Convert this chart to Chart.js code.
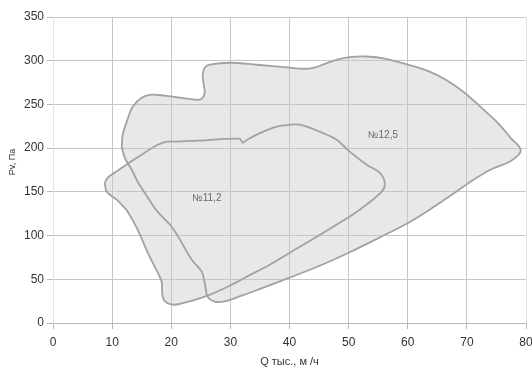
<!DOCTYPE html>
<html>
<head>
<meta charset="utf-8">
<script src="https://cdn.jsdelivr.net/npm/chart.js@4/dist/chart.umd.min.js"></script>
<style>
  html, body { margin: 0; padding: 0; background: #fff; }
  #wrap { width: 532px; height: 369px; }
</style>
</head>
<body>
<div id="wrap"><canvas id="c" width="532" height="369"></canvas></div>
<script>
// Fan operating areas: flow Q (thousand m3/h) vs pressure Pv (Pa)
const xTicks = [0, 10, 20, 30, 40, 50, 60, 70, 80];
const yTicks = [0, 50, 100, 150, 200, 250, 300, 350];

const seriesNames = ['№12,5', '№11,2'];
const xTitle = 'Q тыс., м /ч';
const yTitle = 'Pv, Па';

// Contour of the №12,5 area (closed, clockwise)
const q125 = [11.62, 11.79, 12.46, 13.48, 15.0, 16.69, 18.89, 21.42, 23.97, 25.16, 25.66, 25.49, 25.32, 25.66, 26.5, 29.88, 34.45, 40.03, 42.4, 44.2, 46.0, 48.2, 50.5, 53.0, 56.1, 60.0, 63.5, 66.5, 69.5, 72.5, 75.5, 77.5, 78.7, 79.1, 78.77, 77.24, 73.9, 70.5, 67.5, 64.0, 60.2, 55.0, 50.0, 45.1, 40.0, 35.0, 32.0, 29.0, 27.35, 26.16, 25.66, 25.16, 23.46, 21.77, 20.08, 17.6, 15.9, 14.32, 13.31, 12.13, 11.62];
const p125 = [201.6, 215.4, 230.2, 247.3, 257.7, 261.1, 260.0, 257.7, 255.4, 256.5, 263.4, 272.6, 284.0, 292.0, 295.4, 297.7, 295.4, 292.0, 290.8, 292.2, 296.5, 301.5, 304.3, 304.8, 302.5, 295.5, 288.0, 278.0, 264.0, 246.0, 227.0, 211.0, 203.0, 197.5, 192.5, 184.5, 175.0, 161.0, 147.0, 131.0, 115.0, 97.0, 80.4, 65.5, 51.8, 39.0, 31.5, 24.6, 24.4, 30.1, 46.1, 58.7, 72.4, 91.8, 110.1, 128.0, 145.0, 161.6, 175.3, 189.1, 201.6];

// Contour of the №11,2 area (closed, clockwise)
const q112 = [8.76, 9.25, 9.93, 12.63, 15.5, 17.71, 19.23, 20.58, 24.81, 31.57, 32.08, 32.59, 34.45, 37.83, 40.03, 41.72, 45.1, 47.97, 50.18, 53.05, 55.25, 56.1, 55.59, 51.87, 48.49, 44.6, 40.03, 36.65, 32.42, 29.55, 25.66, 22.28, 20.58, 19.23, 18.55, 18.38, 17.71, 16.02, 14.32, 12.63, 11.62, 10.78, 9.08, 8.76];
const p112 = [160.4, 166.2, 169.6, 182.2, 194.8, 203.9, 207.4, 207.4, 208.5, 210.8, 206.3, 208.5, 215.4, 224.5, 226.8, 226.8, 218.8, 209.7, 196.0, 181.1, 171.9, 160.4, 150.2, 129.6, 114.7, 98.7, 80.4, 66.7, 51.8, 41.5, 30.1, 23.2, 20.9, 23.2, 30.1, 47.2, 57.5, 80.4, 106.7, 127.3, 135.3, 141.1, 150.2, 160.4];

// Where each area's name is written
const labelQ = [55.8, 26.0];
const labelP = [215, 143];

const toPoints = (xs, ys) => xs.map((x, i) => ({ x: x, y: ys[i] }));

const FONT = '"Liberation Sans", Arial, sans-serif';

// Area names inside the contours and the vertical axis caption
const annotations = {
  id: 'annotations',
  afterDatasetsDraw(chart) {
    const { ctx, scales, chartArea } = chart;
    ctx.save();
    ctx.font = '10px ' + FONT;
    ctx.fillStyle = '#6a6a6a';
    ctx.textAlign = 'center';
    ctx.textBaseline = 'middle';
    seriesNames.forEach((name, i) => {
      ctx.fillText(name, scales.x.getPixelForValue(labelQ[i]), scales.y.getPixelForValue(labelP[i]));
    });
    ctx.translate(12.5, (chartArea.top + chartArea.bottom) / 2 - 8);
    ctx.rotate(-Math.PI / 2);
    ctx.font = '9px ' + FONT;
    ctx.fillStyle = '#333';
    ctx.fillText(yTitle, 0, 0);
    ctx.restore();
  }
};

const areaStyle = {
  showLine: true,
  fill: 'shape',
  backgroundColor: '#e7e8ea',
  borderColor: '#a2a2a2',
  borderWidth: 1.8,
  pointRadius: 0,
  pointHoverRadius: 0,
  tension: 0.35
};

new Chart(document.getElementById('c'), {
  type: 'scatter',
  data: {
    datasets: [
      Object.assign({ label: seriesNames[0], data: toPoints(q125, p125) }, areaStyle),
      Object.assign({ label: seriesNames[1], data: toPoints(q112, p112) }, areaStyle)
    ]
  },
  options: {
    responsive: false,
    animation: false,
    events: [],
    layout: { padding: { top: 17, right: 0, left: 0, bottom: 0 } },
    plugins: {
      legend: { display: false },
      tooltip: { enabled: false },
      filler: { drawTime: 'beforeDraw' }
    },
    scales: {
      x: {
        type: 'linear',
        min: 0, max: 80,
        afterBuildTicks: s => { s.ticks = xTicks.map(v => ({ value: v })); },
        afterFit: s => { s.height = 46; s.paddingRight = 6; s.paddingLeft = 0; },
        grid: {
          color: ctx => (ctx.tick && (ctx.tick.value === 0 || ctx.tick.value === 80)) ? '#e2e2e2' : '#c6c6c6',
          tickColor: '#b8b8b8',
          tickLength: 6,
          lineWidth: 1
        },
        border: { color: '#b8b8b8' },
        ticks: { color: '#333', font: { family: FONT, size: 12 }, padding: 6, maxRotation: 0 },
        title: { display: true, text: xTitle, color: '#333', font: { family: FONT, size: 11 }, padding: { top: 2, bottom: 0 } }
      },
      y: {
        type: 'linear',
        min: 0, max: 350,
        afterBuildTicks: s => { s.ticks = yTicks.map(v => ({ value: v })); },
        afterFit: s => { s.width = 53; },
        grid: { color: '#c6c6c6', tickColor: '#b8b8b8', tickLength: 6, lineWidth: 1 },
        border: { color: '#e2e2e2' },
        ticks: { color: '#333', font: { family: FONT, size: 12 }, padding: 3 }
      }
    }
  },
  plugins: [annotations]
});
</script>
</body>
</html>
